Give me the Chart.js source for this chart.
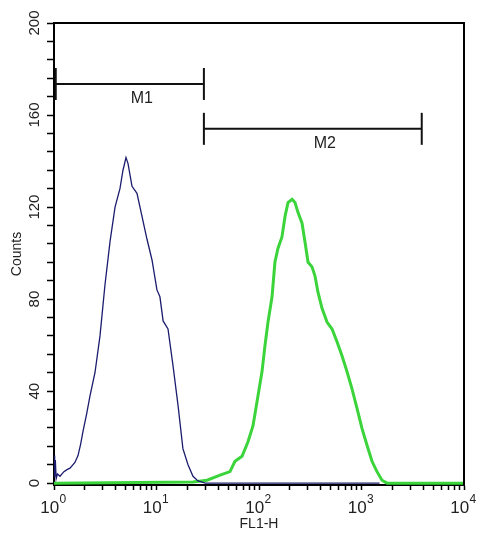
<!DOCTYPE html>
<html>
<head>
<meta charset="utf-8">
<script src="https://cdn.jsdelivr.net/npm/chart.js@4.4.1/dist/chart.umd.min.js"></script>
<style>
  html, body { margin: 0; padding: 0; background: #fff; }
</style>
</head>
<body>
<canvas id="chart" width="489" height="536"></canvas>
<script>
// Isotype control (blue) - FL1-H channel value vs counts
let isotypeX = [1.0, 1.01, 1.02, 1.03, 1.05, 1.08, 1.144, 1.25, 1.35, 1.433, 1.6, 1.715, 1.82, 1.918, 2.08, 2.247, 2.51, 2.81, 3.14, 3.52, 3.94, 4.4, 4.71, 5.04, 5.27, 5.77, 6.45, 7.22, 8.08, 9.04, 10.1, 10.8, 11.6, 12.95, 14.5, 16.2, 18.1, 20.3, 22.7, 25.4, 30, 1500];
let isotypeCounts = [3, 12, 4, 10, 2, 4, 3, 5, 6, 6.5, 9, 12, 17, 22.5, 30, 38, 48, 64, 86, 105, 120, 128, 136, 141.5, 139, 129, 126, 116, 106, 97, 84, 81, 70.5, 67, 51, 34, 15, 8, 3, 1, 0, 0];

// Antibody stained sample (green)
let stainedX = [1, 22.7, 31.1, 41.7, 52.1, 58.3, 68.3, 78.1, 87.4, 97.8, 107, 114.5, 122.4, 134, 143, 153, 167.5, 179.5, 192, 210, 224.6, 240, 263, 281, 301, 329, 352, 376, 412, 461, 516, 577, 645, 722, 808, 904, 1011, 1132, 1266, 1416, 1585, 1774, 10000];
let stainedCounts = [0, 0.5, 1.3, 3.5, 5, 9.5, 11.7, 18, 25, 38, 48.5, 60, 70, 81, 96, 102, 107, 116, 122, 123.4, 122, 117.7, 113, 104.8, 96, 94, 90, 83, 76, 70, 67, 61.5, 55.4, 48.5, 41, 32.5, 23.8, 16.5, 9.5, 5, 1.3, 0, 0];

// Marker gates
let gateNames = ['M1', 'M2'];
let gateStart = [1.04, 29];
let gateEnd = [29, 3870];
let gateLevel = [173.5, 154];

// Axis ticks
let decades = [1, 10, 100, 1000, 10000];
let decadeExponents = ['0', '1', '2', '3', '4'];
let countLabels = [0, 40, 80, 120, 160, 200];
let countMinorStep = 8;

const fontFamily = 'Arial, "Liberation Sans", sans-serif';

function pairs(xs, ys) {
  return xs.map((v, i) => ({x: v, y: ys[i]}));
}

let datasets = [
  {
    data: pairs(isotypeX, isotypeCounts),
    borderColor: '#1c1c6e',
    borderWidth: 1.3,
    pointRadius: 0,
    tension: 0,
    order: 1
  },
  {
    data: pairs(stainedX, stainedCounts),
    borderColor: '#3bd43b',
    borderWidth: 3,
    pointRadius: 0,
    tension: 0,
    order: 2
  }
];

// Gate bars: horizontal line with vertical end caps
gateNames.forEach((name, i) => {
  datasets.push({
    data: [{x: gateStart[i], y: gateLevel[i]}, {x: gateEnd[i], y: gateLevel[i]}],
    borderColor: '#111',
    borderWidth: 2,
    pointStyle: 'line',
    pointRotation: 90,
    pointRadius: 16,
    pointBorderColor: '#111',
    pointBorderWidth: 2,
    order: 0
  });
});

// Draws the box top / right edges
const frame = {
  id: 'frame',
  afterDraw(chart) {
    const {ctx, chartArea: a} = chart;
    ctx.save();
    ctx.strokeStyle = '#000';
    ctx.lineWidth = 2;
    ctx.beginPath();
    ctx.moveTo(a.left, a.top);
    ctx.lineTo(a.right, a.top);
    ctx.lineTo(a.right, a.bottom + 1);
    ctx.stroke();
    ctx.restore();
  }
};

// Decade labels with superscript exponent
const decadeLabels = {
  id: 'decadeLabels',
  afterDraw(chart) {
    const {ctx, scales: {x}} = chart;
    ctx.save();
    ctx.fillStyle = '#222';
    ctx.textBaseline = 'alphabetic';
    ctx.textAlign = 'left';
    decades.forEach((v, i) => {
      const px = x.getPixelForValue(v);
      ctx.font = '17px ' + fontFamily;
      const w1 = ctx.measureText('10').width;
      ctx.font = '12px ' + fontFamily;
      const w2 = ctx.measureText(decadeExponents[i]).width;
      const start = px - (w1 + w2) / 2 - 1;
      ctx.font = '17px ' + fontFamily;
      ctx.fillText('10', start, 513);
      ctx.font = '12px ' + fontFamily;
      ctx.fillText(decadeExponents[i], start + w1 + 0.5, 503);
    });
    ctx.restore();
  }
};

const gateLabels = {
  id: 'gateLabels',
  afterDatasetsDraw(chart) {
    const {ctx, scales: {x, y}} = chart;
    ctx.save();
    ctx.fillStyle = '#222';
    ctx.font = '16px ' + fontFamily;
    ctx.textAlign = 'center';
    ctx.textBaseline = 'middle';
    gateNames.forEach((name, i) => {
      const left = x.getPixelForValue(gateStart[i]);
      const right = x.getPixelForValue(gateEnd[i]);
      ctx.fillText(name, (left + right) / 2 + 12, y.getPixelForValue(gateLevel[i]) + 15);
    });
    ctx.restore();
  }
};

let ctx = document.getElementById('chart');
let chart = new Chart(ctx, {
  type: 'line',
  data: {datasets: datasets},
  plugins: [frame, decadeLabels, gateLabels],
  options: {
    responsive: false,
    animation: false,
    events: [],
    layout: {padding: {left: 0, right: 25, top: 23, bottom: 0}},
    plugins: {legend: {display: false}, tooltip: {enabled: false}},
    scales: {
      x: {
        type: 'logarithmic',
        min: 1,
        max: 10000,
        afterBuildTicks: scale => {
          let ticks = [];
          decades.forEach((d, i) => {
            if (i === decades.length - 1) {
              ticks.push({value: d});
              return;
            }
            for (let m = 1; m <= 9; m++) ticks.push({value: d * m});
          });
          scale.ticks = ticks;
        },
        afterFit: scale => { scale.height = 51; },
        ticks: {display: false, autoSkip: false},
        grid: {drawOnChartArea: false, drawTicks: true, tickLength: 5, tickColor: '#000', tickWidth: 1.5},
        border: {color: '#000', width: 2},
        title: {
          display: true,
          text: 'FL1-H',
          color: '#222',
          font: {family: fontFamily, size: 14},
          padding: {top: 0, bottom: 3}
        }
      },
      y: {
        min: -0.8,
        max: 200,
        afterBuildTicks: scale => {
          let ticks = [];
          for (let v = 0; v <= countLabels[countLabels.length - 1]; v += countMinorStep) ticks.push({value: v});
          scale.ticks = ticks;
        },
        afterFit: scale => { scale.width = 54; },
        ticks: {
          autoSkip: false,
          minRotation: 90,
          maxRotation: 90,
          crossAlign: 'center',
          padding: 0,
          color: '#222',
          font: {family: fontFamily, size: 15},
          callback: v => countLabels.includes(v) ? String(v) : ''
        },
        grid: {drawOnChartArea: false, drawTicks: true, tickLength: 7, tickColor: '#000', tickWidth: 1.5},
        border: {color: '#000', width: 2},
        title: {
          display: true,
          text: 'Counts',
          color: '#222',
          font: {family: fontFamily, size: 14},
          padding: {top: 9, bottom: 0}
        }
      }
    }
  }
});
</script>
</body>
</html>
